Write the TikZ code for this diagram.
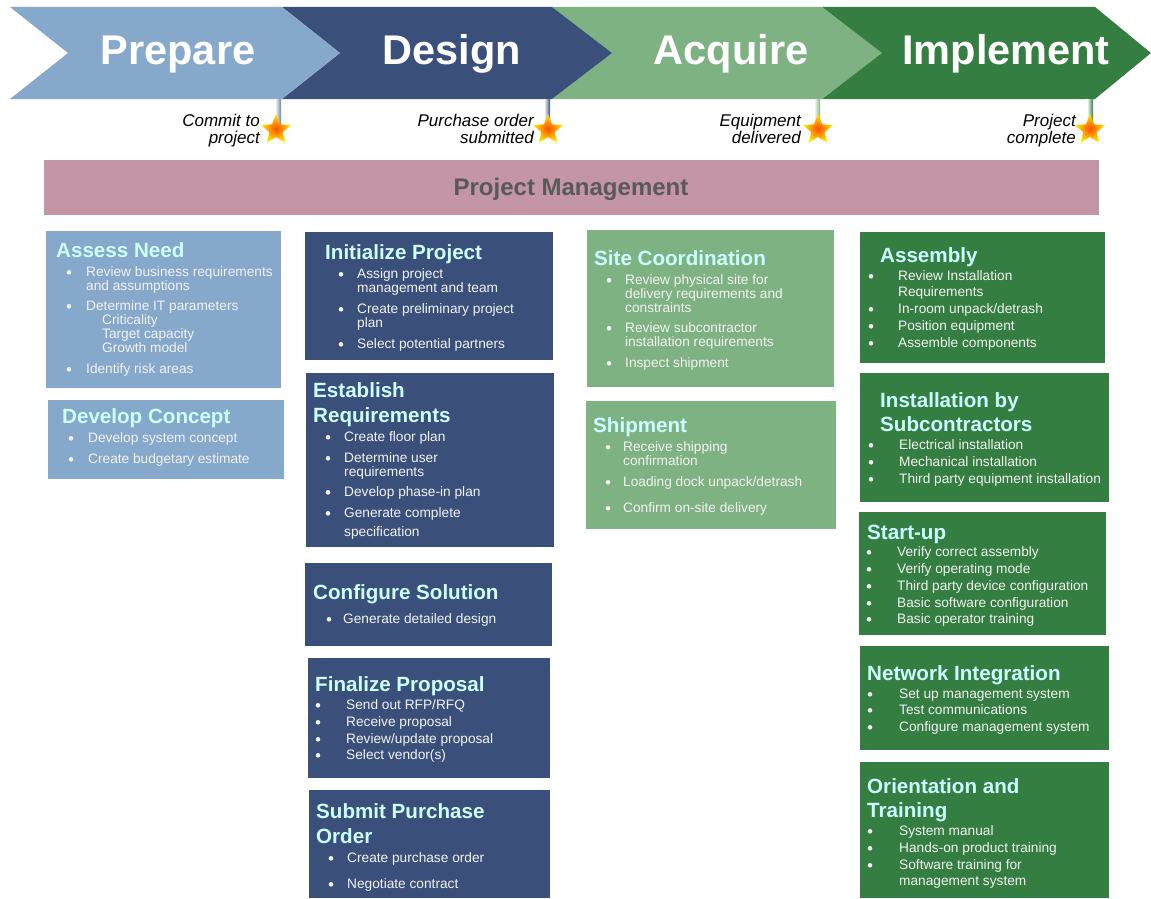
\documentclass[tikz,border=0pt]{standalone}
\usepackage{fontspec}
\setmainfont{Liberation Sans}
\usetikzlibrary{shapes.geometric}
\definecolor{cPrep}{HTML}{85A8CB}
\definecolor{cDes}{HTML}{3A507B}
\definecolor{cAcq}{HTML}{7FB283}
\definecolor{cImp}{HTML}{357E41}
\definecolor{cPM}{HTML}{C495A6}
\definecolor{cPMt}{HTML}{595959}
\definecolor{cTtl}{HTML}{CCFFFF}
\definecolor{cTxt}{HTML}{F2F2F2}
\newcounter{lnc}
\newcommand{\pbox}[6]{\node[boxst, fill=#6, name=#1, minimum width={#4-#2}, minimum height={#5-#3}] at (#2,#3) {};}
\newcommand{\ptitle}[3]{\stepcounter{lnc}\node[ttl, name=T\arabic{lnc}] at (#1,{#2+7.3}) {#3};}
\newcommand{\pitem}[4]{\stepcounter{lnc}\node[bul, name=B\arabic{lnc}] at (#1,{#3+0.3}) {};\node[itm, name=L\arabic{lnc}] at (#2,{#3+4.9}) {#4};}
\newcommand{\pline}[3]{\stepcounter{lnc}\node[itm, name=L\arabic{lnc}] at (#1,{#2+4.9}) {#3};}
\newcommand{\mstone}[7]{%
  \shade[left color=white, right color=#7] ({#1-3},99) rectangle ({#1+3},124);
  \node[starst, name=S#6] at (#2,130) {};
  \node[mst, name=M#6a] at (#3,{120+6}) {#4};
  \node[mst, name=M#6b] at (#3,{137+6}) {#5};}
\begin{document}
\begin{tikzpicture}[x=1pt,y=-1pt,
  boxst/.style={anchor=north west, inner sep=0, draw=none},
  ttl/.style={anchor=base west, inner sep=0, text=cTtl, font=\fontsize{20.6}{22}\selectfont\bfseries},
  itm/.style={anchor=base west, inner sep=0, text=cTxt, font=\fontsize{13.7}{15}\selectfont},
  bul/.style={circle, fill=cTxt, inner sep=0, minimum size=4.6pt, draw=none},
  chev/.style={anchor=base, inner sep=0, text=white, font=\fontsize{41.5}{44}\selectfont\bfseries},
  mst/.style={anchor=base east, inner sep=0, text=black, font=\fontsize{17}{18}\selectfont\itshape},
  starst/.style={star, star points=5, star point ratio=2.3, minimum size=32pt, inner sep=0,
    shading=radial, inner color=orange!60!red, outer color=yellow!90!orange, draw=none}]
\useasboundingbox (0,0) rectangle (1151,899);
\fill[white] (0,0) rectangle (1151,899);
% chevrons (right to left so tips overlay)
\fill[cImp] (822,7) -- (1095,7) -- (1151,53) -- (1095,99) -- (822,99) -- (880,53) -- cycle;
\fill[cAcq] (552,7) -- (822,7) -- (882,53) -- (822,99) -- (552,99) -- (612,53) -- cycle;
\fill[cDes] (282,7) -- (552,7) -- (612,53) -- (552,99) -- (282,99) -- (340,53) -- cycle;
\fill[cPrep] (10,7) -- (282,7) -- (340,53) -- (282,99) -- (10,99) -- (68,53) -- cycle;
\node[chev, name=cp] at (178,{50+15}) {Prepare};
\node[chev, name=cd] at (452,{50+15}) {Design};
\node[chev, name=ca] at (731,{50+15}) {Acquire};
\node[chev, name=ci] at (1006,{50+15}) {Implement};
% milestones
\mstone{278}{276}{260}{Commit to}{project}{1}{cPrep!80!black}
\mstone{547}{548}{534}{Purchase order}{submitted}{2}{cDes}
\mstone{817}{818}{801}{Equipment}{delivered}{3}{cAcq}
\mstone{1090}{1090}{1076}{Project}{complete}{4}{cImp}
% project management
\node[boxst, fill=cPM, name=pm, minimum width=1055, minimum height=55] at (44,160) {};
\node[anchor=base, inner sep=0, text=cPMt, font=\fontsize{24}{26}\selectfont\bfseries, name=pmt] at (571,{187+8.6}) {Project Management};
% column 1
\pbox{an}{46}{231}{281}{388}{cPrep}
\ptitle{56}{250}{Assess Need}
\pitem{69}{86}{272}{Review business requirements}
\pline{86}{286}{and assumptions}
\pitem{69}{86}{306}{Determine IT parameters}
\pline{102}{320}{Criticality}
\pline{102}{334}{Target capacity}
\pline{102}{348}{Growth model}
\pitem{69}{86}{369}{Identify risk areas}
\pbox{dc}{48}{400}{284}{479}{cPrep}
\ptitle{62}{416}{Develop Concept}
\pitem{71}{88}{438}{Develop system concept}
\pitem{71}{88}{459}{Create budgetary estimate}
% column 2
\pbox{ip}{305}{232}{553}{360}{cDes}
\ptitle{325}{252}{Initialize Project}
\pitem{341}{357}{274}{Assign project}
\pline{357}{288}{management and team}
\pitem{341}{357}{309}{Create preliminary project}
\pline{357}{323}{plan}
\pitem{341}{357}{344}{Select potential partners}
\pbox{er}{306}{373}{554}{547}{cDes}
\ptitle{313}{390}{Establish}
\ptitle{313}{415}{Requirements}
\pitem{328}{344}{437}{Create floor plan}
\pitem{328}{344}{458}{Determine user}
\pline{344}{472}{requirements}
\pitem{328}{344}{492}{Develop phase-in plan}
\pitem{328}{344}{513}{Generate complete}
\pline{344}{532}{specification}
\pbox{cs}{305}{563}{552}{646}{cDes}
\ptitle{313}{592}{Configure Solution}
\pitem{329}{343}{619}{Generate detailed design}
\pbox{fp}{308}{658}{550}{778}{cDes}
\ptitle{315}{684}{Finalize Proposal}
\pitem{318}{346}{705}{Send out RFP/RFQ}
\pitem{318}{346}{722}{Receive proposal}
\pitem{318}{346}{739}{Review/update proposal}
\pitem{318}{346}{755}{Select vendor(s)}
\pbox{sp}{309}{790}{550}{898}{cDes}
\ptitle{316}{811}{Submit Purchase}
\ptitle{316}{836}{Order}
\pitem{331}{347}{858}{Create purchase order}
\pitem{331}{347}{884}{Negotiate contract}
% column 3
\pbox{sc}{587}{230}{834}{387}{cAcq}
\ptitle{594}{258}{Site Coordination}
\pitem{609}{625}{280}{Review physical site for}
\pline{625}{294}{delivery requirements and}
\pline{625}{308}{constraints}
\pitem{609}{625}{328}{Review subcontractor}
\pline{625}{342}{installation requirements}
\pitem{609}{625}{363}{Inspect shipment}
\pbox{sh}{586}{401}{836}{529}{cAcq}
\ptitle{593}{425}{Shipment}
\pitem{608}{623}{447}{Receive shipping}
\pline{623}{461}{confirmation}
\pitem{608}{623}{482}{Loading dock unpack/detrash}
\pitem{608}{623}{508}{Confirm on-site delivery}
% column 4
\pbox{as}{860}{232}{1105}{363}{cImp}
\ptitle{880}{255}{Assembly}
\pitem{871}{898}{276}{Review Installation}
\pline{898}{292}{Requirements}
\pitem{871}{898}{309}{In-room unpack/detrash}
\pitem{871}{898}{326}{Position equipment}
\pitem{871}{898}{343}{Assemble components}
\pbox{is}{860}{373}{1109}{502}{cImp}
\ptitle{880}{400}{Installation by}
\ptitle{880}{424}{Subcontractors}
\pitem{871}{899}{445}{Electrical installation}
\pitem{871}{899}{462}{Mechanical installation}
\pitem{871}{899}{479}{Third party equipment installation}
\pbox{su}{859}{512}{1106}{635}{cImp}
\ptitle{867}{532}{Start-up}
\pitem{869}{897}{552}{Verify correct assembly}
\pitem{869}{897}{569}{Verify operating mode}
\pitem{869}{897}{586}{Third party device configuration}
\pitem{869}{897}{603}{Basic software configuration}
\pitem{869}{897}{619}{Basic operator training}
\pbox{ni}{860}{646}{1109}{750}{cImp}
\ptitle{867}{673}{Network Integration}
\pitem{870}{899}{694}{Set up management system}
\pitem{870}{899}{710}{Test communications}
\pitem{870}{899}{727}{Configure management system}
\pbox{ot}{860}{762}{1109}{898}{cImp}
\ptitle{867}{786}{Orientation and}
\ptitle{867}{810}{Training}
\pitem{870}{899}{831}{System manual}
\pitem{870}{899}{848}{Hands-on product training}
\pitem{870}{899}{865}{Software training for}
\pline{899}{881}{management system}
\end{tikzpicture}
\end{document}
